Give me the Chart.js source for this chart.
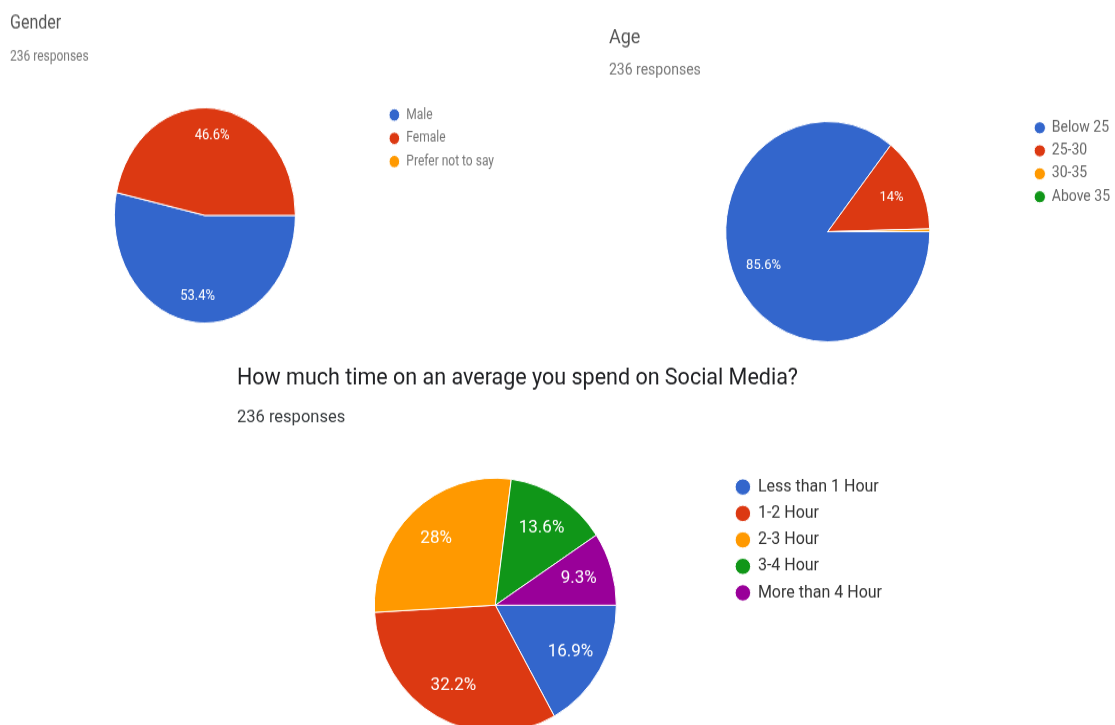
<!DOCTYPE html>
<html>
<head>
<meta charset="utf-8">
<script src="https://cdn.jsdelivr.net/npm/chart.js@4.4.1/dist/chart.umd.min.js"></script>
<style>
  html, body { margin: 0; padding: 0; background: #fff; overflow: hidden; width: 1115px; height: 725px; }
  canvas { position: absolute; transform-origin: 0 0; }
  /* os graficos do forms vem esticados na vertical */
  #genero { left: 0; top: 0; transform: scaleY(1.19); }
  #idade { left: 600px; top: 0; transform: scaleY(1.08); }
  #tempo { left: 220px; top: 355px; transform: scaleY(1.05); }
</style>
</head>
<body>
<canvas id="genero" width="504" height="279"></canvas>
<canvas id="idade" width="520" height="325"></canvas>
<canvas id="tempo" width="672" height="368"></canvas>

<script>
const respostas = 236;
const cores = ['#3366cc', '#dc3912', '#ff9900', '#109618', '#990099'];

const genderLabels = ['Male', 'Female', 'Prefer not to say'];
const genderValues = [53.4, 46.6, 0];

const ageLabels = ['Below 25', '25-30', '30-35', 'Above 35'];
const ageValues = [85.6, 14, 0.4, 0];

const timeLabels = ['Less than 1 Hour', '1-2 Hour', '2-3 Hour', '3-4 Hour', 'More than 4 Hour'];
const timeValues = [16.9, 32.2, 28, 13.6, 9.3];

// titulo + "236 responses" no topo de cada grafico
const cabecalho = {
  id: 'cabecalho',
  afterDraw(chart, args, opts) {
    const ctx = chart.ctx;
    ctx.save();
    ctx.textAlign = 'left';
    ctx.textBaseline = 'alphabetic';
    ctx.fillStyle = opts.corTitulo;
    ctx.font = opts.fonteTitulo;
    ctx.fillText(opts.titulo, opts.x, opts.yTitulo);
    ctx.fillStyle = opts.corSub;
    ctx.font = opts.fonteSub;
    ctx.fillText(respostas + ' responses', opts.x, opts.ySub);
    ctx.restore();
  }
};

// porcentagem escrita dentro de cada fatia
const rotulos = {
  id: 'rotulos',
  afterDatasetsDraw(chart, args, opts) {
    const ctx = chart.ctx;
    const valores = chart.data.datasets[0].data;
    ctx.save();
    ctx.fillStyle = '#fff';
    ctx.font = opts.fonte;
    ctx.textAlign = 'center';
    ctx.textBaseline = 'middle';
    chart.getDatasetMeta(0).data.forEach((arco, i) => {
      if (valores[i] < 3) return;
      const p = arco.getProps(['x', 'y', 'startAngle', 'endAngle', 'outerRadius'], true);
      const meio = (p.startAngle + p.endAngle) / 2;
      const r = p.outerRadius * opts.dist;
      ctx.fillText(valores[i] + '%', p.x + Math.cos(meio) * r, p.y + Math.sin(meio) * r);
    });
    ctx.restore();
  }
};

function pizza(id, labels, values, cfg) {
  return new Chart(document.getElementById(id), {
    type: 'pie',
    data: {
      labels: labels,
      datasets: [{
        data: values,
        backgroundColor: cores.slice(0, labels.length),
        borderColor: '#fff',
        borderWidth: 1
      }]
    },
    options: {
      responsive: false,
      animation: false,
      events: [],
      rotation: 90,
      radius: cfg.raio,
      layout: { padding: cfg.padding },
      plugins: {
        legend: {
          position: 'right',
          align: 'start',
          labels: {
            usePointStyle: true,
            pointStyle: 'circle',
            boxWidth: cfg.caixa,
            boxHeight: cfg.bola,
            padding: cfg.espaco,
            color: cfg.corLegenda,
            font: { family: 'Roboto', size: cfg.fonteLegenda }
          }
        },
        tooltip: { enabled: false },
        cabecalho: cfg.cabecalho,
        rotulos: cfg.rotulos
      }
    },
    plugins: [cabecalho, rotulos]
  });
}

pizza('genero', genderLabels, genderValues, {
  raio: 90.5,
  padding: { left: 29, top: 83, right: 0, bottom: 0 },
  caixa: 12, bola: 7.5, espaco: 7.6, fonteLegenda: 12, corLegenda: '#777',
  cabecalho: { titulo: 'Gender', x: 10, yTitulo: 24, ySub: 51,
    fonteTitulo: '16px Roboto', fonteSub: '12px Roboto', corTitulo: '#555', corSub: '#777' },
  rotulos: { fonte: '13px Roboto', dist: 0.75 }
});

pizza('idade', ageLabels, ageValues, {
  raio: 102,
  padding: { left: 28, top: 104, right: 0, bottom: 0 },
  caixa: 10, bola: 8, espaco: 7.3, fonteLegenda: 14, corLegenda: '#666',
  cabecalho: { titulo: 'Age', x: 9, yTitulo: 40, ySub: 69,
    fonteTitulo: '18px Roboto', fonteSub: '14px Roboto', corTitulo: '#555', corSub: '#777' },
  rotulos: { fonte: '13px Roboto', dist: 0.7 }
});

pizza('tempo', timeLabels, timeValues, {
  raio: 121,
  padding: { left: 44, top: 108.5, right: 0, bottom: 0 },
  caixa: 14, bola: 11, espaco: 9.2, fonteLegenda: 16, corLegenda: '#333',
  cabecalho: { titulo: 'How much time on an average you spend on Social Media?', x: 17, yTitulo: 28, ySub: 64,
    fonteTitulo: '21.5px Roboto', fonteSub: '16.5px Roboto', corTitulo: '#202124', corSub: '#3c4043' },
  rotulos: { fonte: '17px Roboto', dist: 0.72 }
});
</script>
</body>
</html>
